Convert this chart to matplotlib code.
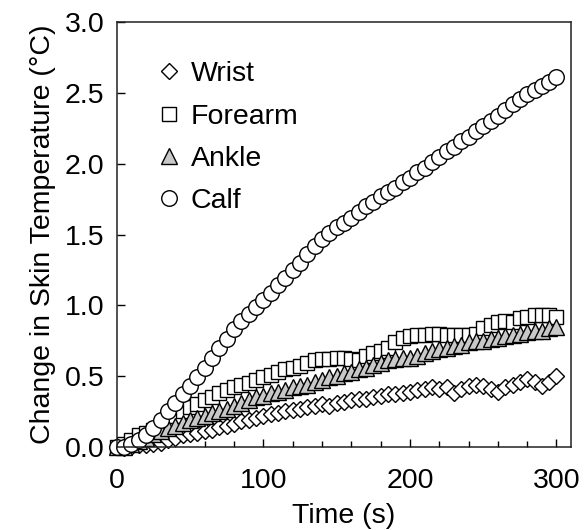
import numpy as np
import matplotlib
matplotlib.use('Agg')
import matplotlib.pyplot as plt
from matplotlib.ticker import MultipleLocator

plt.rcParams['font.family'] = ['Liberation Sans', 'DejaVu Sans']

# time axis, one reading every 5 s
time_s = list(range(0, 301, 5))

wrist = [0.00, -0.01, 0.00, 0.01, 0.01, 0.02, 0.03, 0.05, 0.06, 0.08,
         0.09, 0.10, 0.11, 0.12, 0.14, 0.15, 0.16, 0.18, 0.19, 0.20,
         0.22, 0.23, 0.24, 0.25, 0.26, 0.27, 0.28, 0.29, 0.30, 0.29,
         0.31, 0.32, 0.33, 0.34, 0.34, 0.35, 0.36, 0.37, 0.37, 0.38,
         0.39, 0.40, 0.41, 0.42, 0.41, 0.42, 0.38, 0.41, 0.43, 0.44,
         0.43, 0.41, 0.39, 0.42, 0.44, 0.46, 0.48, 0.46, 0.43, 0.46,
         0.50]

forearm = [0.00, 0.02, 0.05, 0.08, 0.10, 0.12, 0.15, 0.18, 0.22, 0.25,
           0.28, 0.30, 0.33, 0.35, 0.38, 0.40, 0.42, 0.44, 0.45, 0.47,
           0.49, 0.51, 0.53, 0.55, 0.56, 0.57, 0.59, 0.61, 0.62, 0.62,
           0.63, 0.63, 0.62, 0.61, 0.64, 0.66, 0.68, 0.70, 0.74, 0.77,
           0.78, 0.79, 0.79, 0.80, 0.80, 0.79, 0.79, 0.79, 0.79, 0.80,
           0.84, 0.86, 0.88, 0.89, 0.88, 0.91, 0.92, 0.93, 0.93, 0.93,
           0.92]

ankle = [0.00, 0.00, 0.02, 0.04, 0.06, 0.09, 0.11, 0.13, 0.15, 0.17,
         0.19, 0.20, 0.22, 0.24, 0.25, 0.27, 0.29, 0.31, 0.33, 0.35,
         0.36, 0.38, 0.39, 0.40, 0.42, 0.43, 0.44, 0.46, 0.47, 0.49,
         0.50, 0.52, 0.53, 0.55, 0.56, 0.58, 0.59, 0.61, 0.62, 0.63,
         0.63, 0.64, 0.66, 0.68, 0.69, 0.70, 0.71, 0.72, 0.74, 0.75,
         0.75, 0.76, 0.77, 0.78, 0.79, 0.80, 0.81, 0.82, 0.82, 0.84,
         0.85]

calf = [0.00, 0.00, 0.02, 0.05, 0.08, 0.13, 0.19, 0.25, 0.31, 0.37,
        0.43, 0.49, 0.56, 0.63, 0.70, 0.76, 0.83, 0.89, 0.94, 0.99,
        1.04, 1.09, 1.14, 1.19, 1.25, 1.30, 1.36, 1.42, 1.47, 1.51,
        1.55, 1.58, 1.62, 1.66, 1.70, 1.73, 1.77, 1.80, 1.83, 1.87,
        1.90, 1.94, 1.97, 2.01, 2.05, 2.09, 2.12, 2.16, 2.19, 2.23,
        2.27, 2.30, 2.34, 2.38, 2.42, 2.46, 2.49, 2.52, 2.55, 2.58,
        2.61]

labels = ['Wrist', 'Forearm', 'Ankle', 'Calf']

fig = plt.figure(figsize=(5.87, 5.30), dpi=100)
ax = fig.add_axes([0.199, 0.157, 0.774, 0.801])

fs = 20.5
mew = 1.0

ax.plot(time_s, wrist, ls='none', marker='D', ms=8.5, mfc='white', mec='black', mew=mew, clip_on=False, label=labels[0])
ax.plot(time_s, forearm, ls='none', marker='s', ms=10, mfc='white', mec='black', mew=mew, clip_on=False, label=labels[1])
ax.plot(time_s, ankle, ls='none', marker='^', ms=11, mfc='#c8c8c8', mec='black', mew=mew, clip_on=False, label=labels[2])
ax.plot(time_s, calf, ls='none', marker='o', ms=11.2, mfc='white', mec='black', mew=mew, clip_on=False, label=labels[3])

ax.set_xlim(0, 310)
ax.set_ylim(0, 3.0)
ax.xaxis.set_major_locator(MultipleLocator(100))
ax.xaxis.set_minor_locator(MultipleLocator(20))
ax.yaxis.set_major_locator(MultipleLocator(0.5))
ax.yaxis.set_major_formatter(plt.FormatStrFormatter('%.1f'))

ax.tick_params(axis='both', which='major', direction='in', length=6, width=1.0, labelsize=fs, colors='black')
ax.tick_params(axis='x', which='minor', direction='in', length=4, width=1.0)
ax.tick_params(axis='y', which='major', pad=9)
ax.tick_params(axis='x', which='major', pad=15)
for s in ax.spines.values():
    s.set_linewidth(1.1)
    s.set_color('#222222')

ax.set_xlabel('Time (s)', fontsize=fs, labelpad=7)
ax.set_ylabel('Change in Skin Temperature (\u00b0C)', fontsize=fs, labelpad=6)

ax.legend(loc='upper left', bbox_to_anchor=(0.05, 0.955), frameon=False, fontsize=fs,
          handlelength=0.7, handletextpad=0.4, labelspacing=0.57, borderpad=0.2)

plt.savefig('out.png', dpi=100)
